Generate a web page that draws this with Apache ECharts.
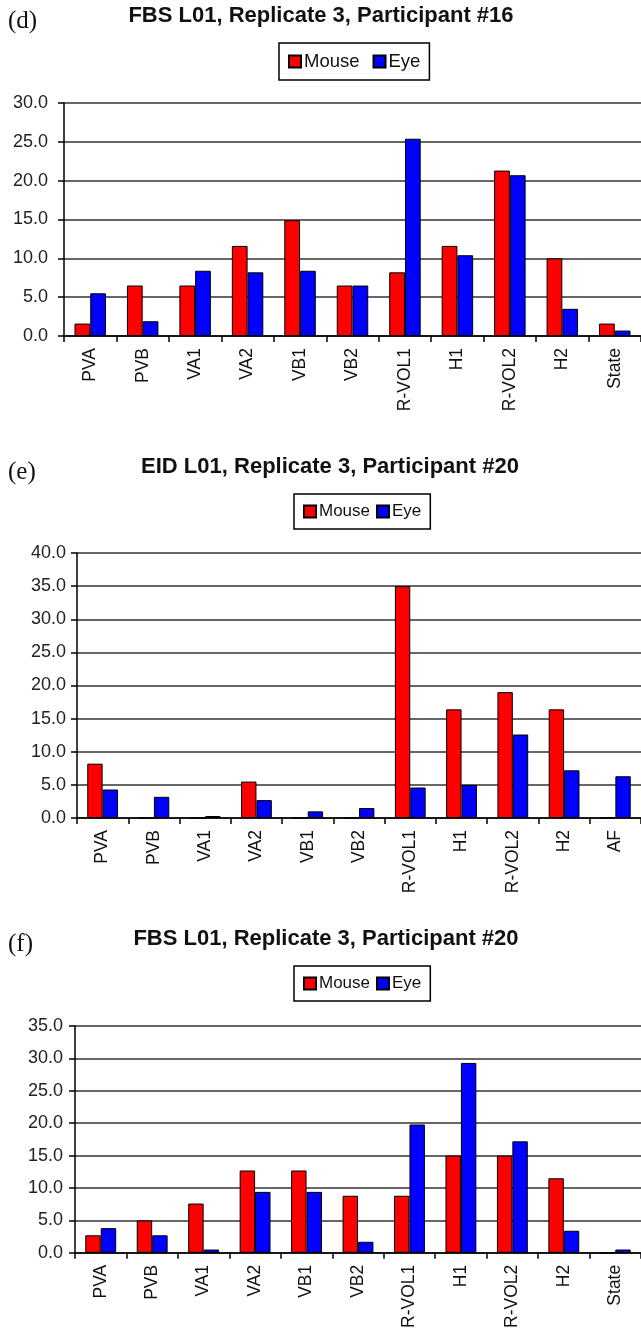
<!DOCTYPE html>
<html>
<head>
	<meta charset="UTF-8">
	<title>Mouse vs Eye</title>
	<script src="https://cdn.jsdelivr.net/npm/echarts@6/dist/echarts.min.js"></script>
	<style>
		body { margin: 0; background: #fff; }
		#main { width: 641px; height: 1331px; }
	</style>
</head>
<body>
<div id="main"></div>
<script type="text/javascript">
	// categories
	var catsD = ['PVA', 'PVB', 'VA1', 'VA2', 'VB1', 'VB2', 'R-VOL1', 'H1', 'R-VOL2', 'H2', 'State'];
	var catsE = ['PVA', 'PVB', 'VA1', 'VA2', 'VB1', 'VB2', 'R-VOL1', 'H1', 'R-VOL2', 'H2', 'AF'];
	var catsF = ['PVA', 'PVB', 'VA1', 'VA2', 'VB1', 'VB2', 'R-VOL1', 'H1', 'R-VOL2', 'H2', 'State'];

	// values (d) FBS #16, (e) EID #20, (f) FBS #20
	var mouseD = [1.6, 6.5, 6.5, 11.6, 14.9, 6.5, 8.2, 11.6, 21.3, 10.0, 1.6];
	var eyeD = [5.5, 1.9, 8.4, 8.2, 8.4, 6.5, 25.4, 10.4, 20.7, 3.5, 0.7];
	var mouseE = [8.2, 0, 0, 5.5, 0, 0, 35.0, 16.4, 19.0, 16.4, 0];
	var eyeE = [4.3, 3.2, 0.3, 2.7, 1.0, 1.5, 4.6, 5.0, 12.6, 7.2, 6.3];
	var mouseF = [2.7, 5.0, 7.6, 12.7, 12.7, 8.8, 8.8, 15.0, 15.0, 11.5, 0];
	var eyeF = [3.8, 2.7, 0.5, 9.4, 9.4, 1.7, 19.8, 29.3, 17.2, 3.4, 0.5];

	var titles = ['FBS L01, Replicate 3, Participant #16', 'EID L01, Replicate 3, Participant #20', 'FBS L01, Replicate 3, Participant #20'];
	var panels = ['(d)', '(e)', '(f)'];
	var yMax = [30, 40, 35];

	var sans = 'Liberation Sans, Arial, sans-serif';
	var serif = 'Liberation Serif, Times New Roman, serif';

	var grids = [
		{left: 64, top: 103, width: 582, height: 233},
		{left: 77, top: 553, width: 570, height: 265},
		{left: 75, top: 1026, width: 573, height: 231}
	];
	var labelMargin = [16, 11, 12];
	var titleX = [321, 330, 326];
	var offsetY = [0, 450.6, 923];
	var legendPos = [
		{left: 279, top: 43, fontSize: 18.5, itemGap: 13},
		{left: 294, top: 494, fontSize: 17, itemGap: 6},
		{left: 294, top: 966, fontSize: 17, itemGap: 6}
	];

	var cats = [catsD, catsE, catsF];
	var mouse = [mouseD, mouseE, mouseF];
	var eye = [eyeD, eyeE, eyeF];

	var xAxes = [], yAxes = [], series = [], legends = [], texts = [];
	for (var i = 0; i < 3; i++) {
		xAxes.push({
			type: 'category',
			gridIndex: i,
			data: cats[i],
			axisLine: {lineStyle: {color: '#000', width: 1.5}},
			axisTick: {show: true, length: 6, lineStyle: {color: '#000', width: 1.5}},
			axisLabel: {rotate: 90, margin: 12, fontSize: 17.5, color: '#111', fontFamily: sans, interval: 0}
		});
		yAxes.push({
			type: 'value',
			gridIndex: i,
			min: 0,
			max: yMax[i],
			interval: 5,
			axisLine: {show: true, lineStyle: {color: '#000', width: 1.5}},
			axisTick: {show: true, length: 6, lineStyle: {color: '#000', width: 1.5}},
			axisLabel: {
				margin: labelMargin[i], fontSize: 18, color: '#222', fontFamily: sans,
				formatter: function (v) { return v.toFixed(1); }
			},
			splitLine: {lineStyle: {color: '#333', width: 1.5}}
		});
		series.push({
			name: 'Mouse', type: 'bar', xAxisIndex: i, yAxisIndex: i,
			data: mouse[i], barGap: '0%', barCategoryGap: '40%',
			itemStyle: {color: '#ff0000', borderColor: '#000', borderWidth: 1}
		});
		series.push({
			name: 'Eye', type: 'bar', xAxisIndex: i, yAxisIndex: i,
			data: eye[i], barGap: '0%', barCategoryGap: '40%',
			itemStyle: {color: '#0000ff', borderColor: '#000', borderWidth: 1}
		});
		legends.push({
			data: ['Mouse', 'Eye'],
			left: legendPos[i].left,
			top: legendPos[i].top,
			orient: 'horizontal',
			icon: 'rect',
			itemWidth: 12,
			itemHeight: 12,
			itemGap: legendPos[i].itemGap,
			padding: [9, 9, 9, 9],
			borderColor: '#000',
			borderWidth: 1.5,
			selectedMode: false,
			textStyle: {fontSize: legendPos[i].fontSize, color: '#111', fontFamily: sans, padding: [0, 0, 0, -2]}
		});
		texts.push({
			type: 'text', left: 8, top: 9 + offsetY[i],
			style: {text: panels[i], fontSize: 25, fontFamily: serif, fill: '#111'}
		});
		texts.push({
			type: 'text', x: titleX[i], y: 16 + offsetY[i],
			style: {text: titles[i], fontSize: 22, fontWeight: 'bold', fontFamily: sans, fill: '#111', align: 'center', verticalAlign: 'middle'}
		});
	}

	var myChart = echarts.init(document.getElementById('main'));
	myChart.setOption({
		animation: false,
		backgroundColor: '#fff',
		grid: grids,
		xAxis: xAxes,
		yAxis: yAxes,
		legend: legends,
		graphic: texts,
		series: series
	});
</script>
</body>
</html>
